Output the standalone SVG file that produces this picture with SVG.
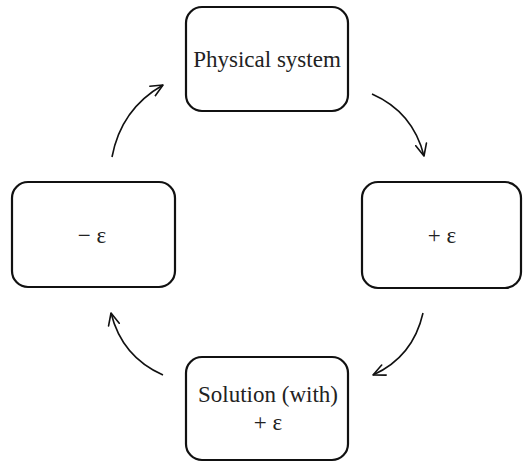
<svg xmlns="http://www.w3.org/2000/svg" width="523" height="464" viewBox="0 0 523 464">
  <defs>
    <style>
      .box { fill: #ffffff; stroke: #111111; stroke-width: 2.2; }
      .lbl { font-family: "Liberation Serif", "Times New Roman", serif; font-size: 23px; fill: #222222; text-anchor: middle; }
      .conn { fill: none; stroke: #111111; stroke-width: 1.6; marker-end: url(#head); }
    </style>
    <marker id="head" viewBox="0 0 14 14" refX="13" refY="7" markerWidth="14" markerHeight="14" markerUnits="userSpaceOnUse" orient="auto">
      <path d="M1,1.5 L13,7 L1,12.5" fill="none" stroke="#111111" stroke-width="1.6" stroke-linecap="round" stroke-linejoin="round"/>
    </marker>
  </defs>
  <rect width="523" height="464" fill="#ffffff"/>

  <g id="physical-system">
    <rect class="box" x="186" y="7" width="162" height="104" rx="16"/>
    <text class="lbl" x="267" y="67">Physical system</text>
  </g>

  <g id="plus-eps">
    <rect class="box" x="362" y="182" width="159" height="106" rx="16"/>
    <text class="lbl" x="442" y="243">+ ε</text>
  </g>

  <g id="solution">
    <rect class="box" x="186" y="357" width="162" height="103" rx="16"/>
    <text class="lbl" x="268" y="402">Solution (with)</text>
    <text class="lbl" x="268" y="430">+ ε</text>
  </g>

  <g id="minus-eps">
    <rect class="box" x="12" y="182" width="163" height="105" rx="16"/>
    <text class="lbl" x="92" y="243">− ε</text>
  </g>

  <g id="connectors">
    <path class="conn" d="M372,94 Q413,112 424,156"/>
    <path class="conn" d="M423,313 Q413,357 373,375"/>
    <path class="conn" d="M163,375 Q122,357 111,313"/>
    <path class="conn" d="M112,157 Q121,109 163,85"/>
  </g>
</svg>
